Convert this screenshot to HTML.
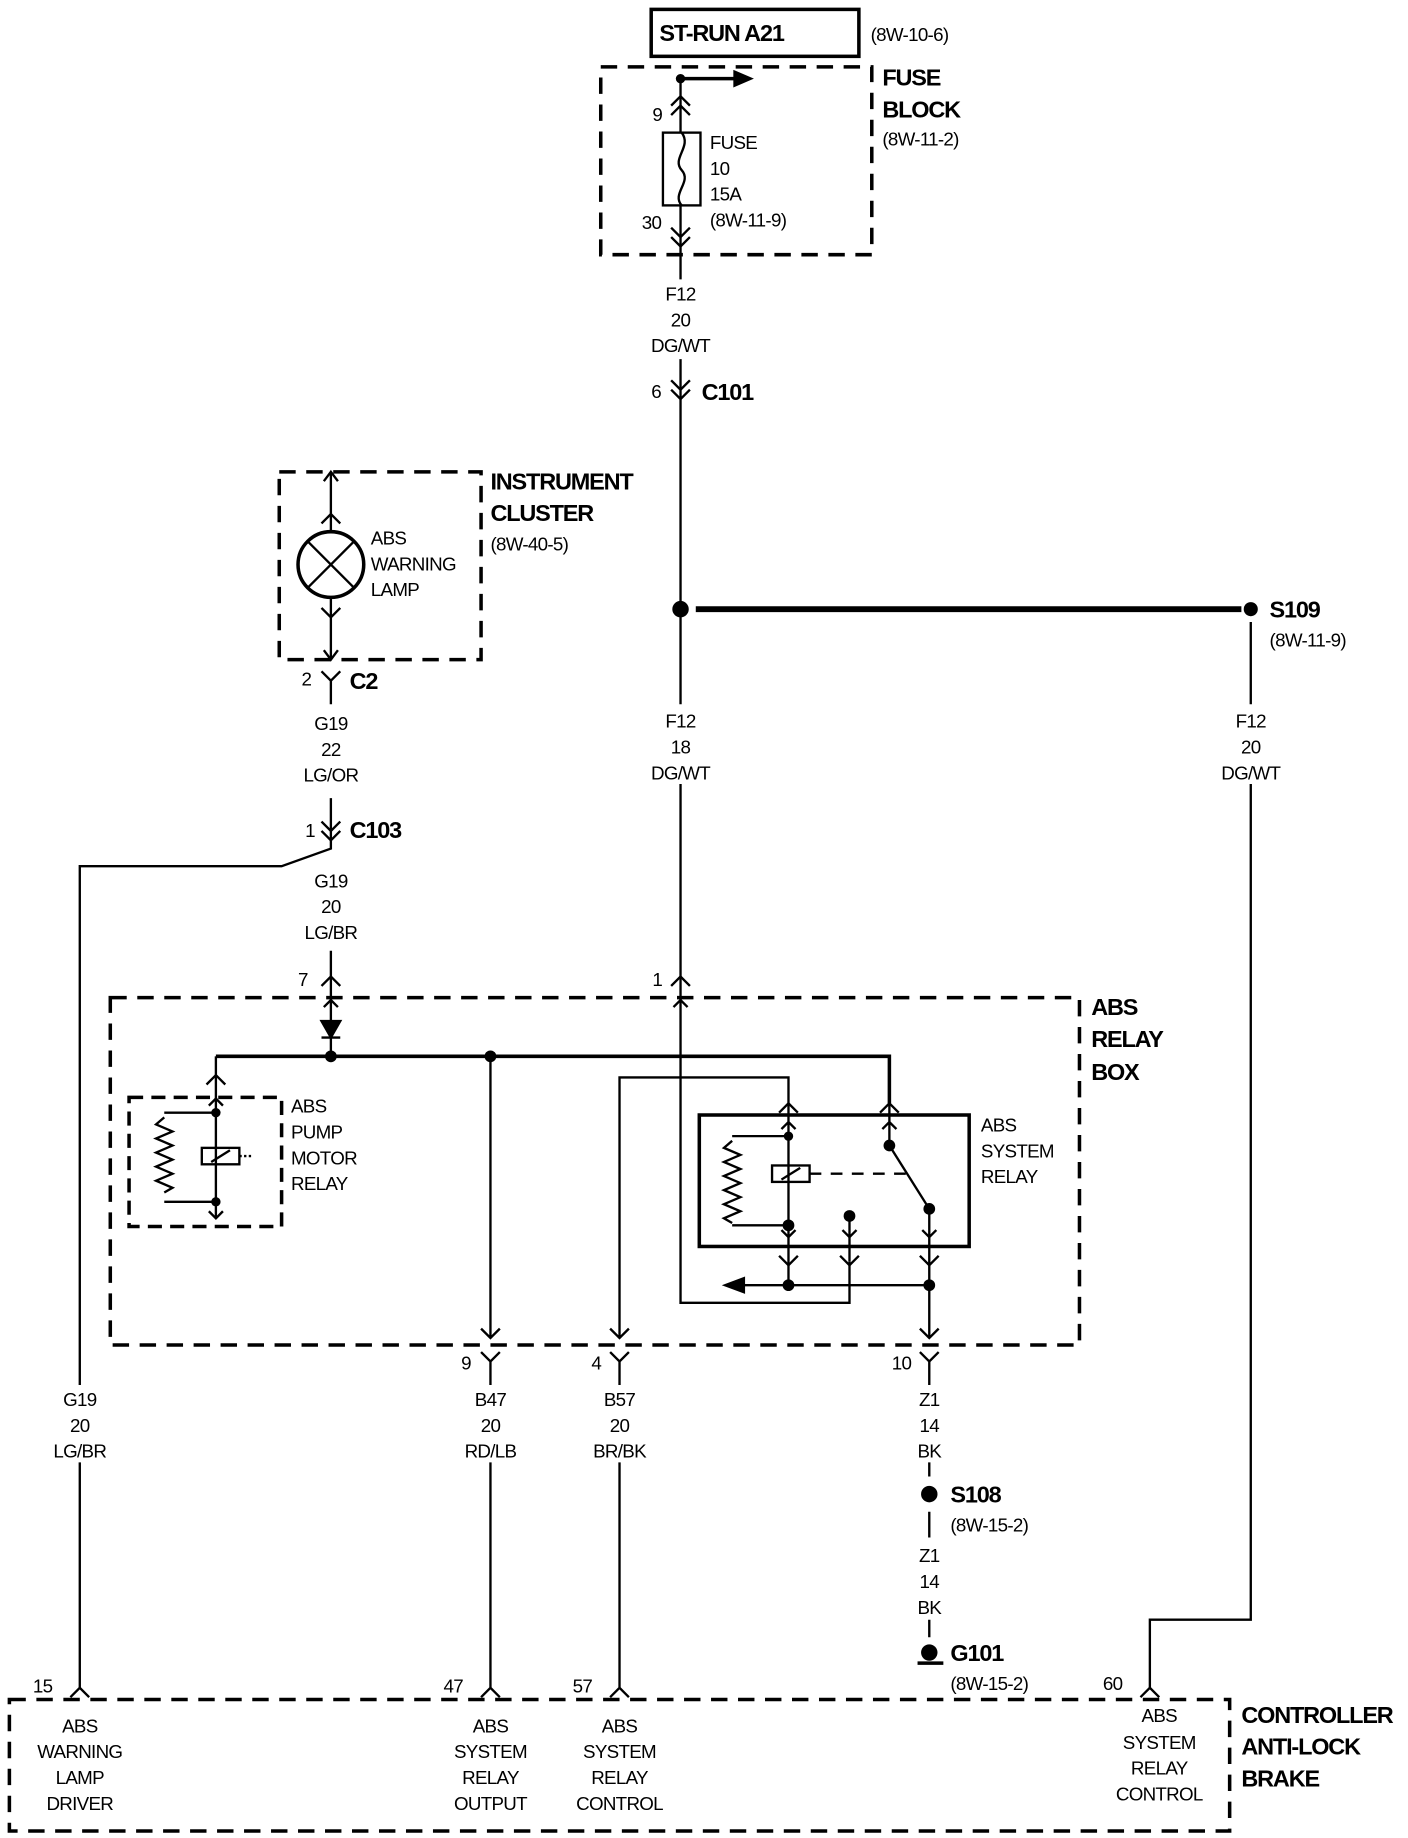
<!DOCTYPE html>
<html><head><meta charset="utf-8"><style>
html,body{margin:0;padding:0;background:#fff}
svg{display:block}
text{font-family:"Liberation Sans Narrow","Liberation Sans",sans-serif;font-size:16px;letter-spacing:-0.6px;fill:#000}
.b{font-weight:bold;font-size:20px;letter-spacing:-1px}
.c{text-anchor:middle}
</style></head><body>
<svg width="1408" height="1838" viewBox="0 0 1200 1566" preserveAspectRatio="none" xmlns="http://www.w3.org/2000/svg">
<g fill="none" stroke="#000" stroke-width="2">
<rect x="555" y="8" width="177" height="40" stroke-width="3"/>
<rect x="512" y="57" width="231" height="160" stroke-width="3" stroke-dasharray="14,9"/>
<rect x="238" y="402" width="172" height="160" stroke-width="3" stroke-dasharray="14,9"/>
<rect x="94" y="850" width="826" height="296" stroke-width="3" stroke-dasharray="14,9"/>
<rect x="110" y="935" width="130" height="110" stroke-width="3" stroke-dasharray="12,7"/>
<rect x="596" y="950" width="230" height="112" stroke-width="3"/>
<rect x="8" y="1448" width="1040" height="112" stroke-width="3" stroke-dasharray="14,9"/>
<path d="M580 67V113M580 175V238M580 306V600M580 668V1110H724V1075"/>
<path d="M580 67H628" stroke-width="3"/>
<path d="M626 61L640 67L626 73Z" fill="#000"/>
<path d="M572 90L580 82L588 90M572 98L580 90L588 98"/>
<rect x="565" y="113" width="32" height="62"/>
<path d="M581 113C590 125,572 135,581 145C590 155,572 165,581 175"/>
<path d="M572 194L580 202L588 194M572 202L580 210L588 202"/>
<path d="M572 324L580 332L588 324M572 332L580 340L588 332"/>
<path d="M593 519H1058" stroke-width="5"/>
<path d="M1066 530V600M1066 668V1380H980V1438"/>
<path d="M972 1446L980 1438L988 1446"/>
<path d="M282 402V453M282 509V562"/>
<path d="M276 410L282 402L288 410M274 446L282 438L290 446M274 518L282 526L290 518M276 554L282 562L288 554"/>
<circle cx="282" cy="481" r="28" stroke-width="3"/>
<path d="M262 461L302 501M302 461L262 501" stroke-width="2"/>
<path d="M274 572L282 580L290 572M282 580V600M282 680V723L240 738H68V1180M68 1246V1438"/>
<path d="M274 700L282 708L290 700M274 708L282 716L290 708"/>
<path d="M282 810V900"/>
<path d="M274 840L282 832L290 840M276 858L282 852L288 858"/>
<path d="M572 840L580 832L588 840M574 858L580 852L586 858"/>
<path d="M274 870H290L282 884Z" fill="#000"/>
<path d="M274 884H290"/>
<path d="M184 900H758V940" stroke-width="3"/>
<path d="M184 900V948"/>
<path d="M176 924L184 916L192 924M178 942L184 936L190 942"/>
<path d="M184 948V1038M140 948H184M140 1024H184"/>
<path d="M140 952l-7 6l14 6l-14 6l14 6l-14 6l14 6l-14 6l14 6l-14 6l14 6l-7 4"/>
<rect x="172" y="978" width="32" height="14"/>
<path d="M180 990L196 980"/>
<path d="M204 985H216" stroke-dasharray="2,2"/>
<path d="M178 1032L184 1038L190 1032"/>
<path d="M418 900V1140M410 1132L418 1140L426 1132M410 1152L418 1160L426 1152M418 1160V1180M418 1246V1438M410 1446L418 1438L426 1446"/>
<path d="M528 1140V918H672V940M520 1132L528 1140L536 1132M520 1152L528 1160L536 1152M528 1160V1180M528 1246V1438M520 1446L528 1438L536 1446"/>
<path d="M664 948L672 940L680 948M666 962L672 956L678 962M672 940V1095"/>
<path d="M750 948L758 940L766 948M752 962L758 956L764 962M758 940V976L792 1030V1140"/>
<path d="M624 968H672M624 1044H672"/>
<path d="M624 972l-7 6l14 6l-14 6l14 6l-14 6l14 6l-14 6l14 6l-14 6l14 6l-14 6l7 4"/>
<rect x="658" y="993" width="32" height="14"/>
<path d="M666 1005L682 995"/>
<path d="M690 1000H778" stroke-dasharray="10,8"/>
<path d="M724 1036V1075"/>
<path d="M666 1048L672 1054L678 1048M718 1048L724 1054L730 1048M786 1048L792 1054L798 1048"/>
<path d="M664 1070L672 1078L680 1070M716 1070L724 1078L732 1070M784 1070L792 1078L800 1070"/>
<path d="M632 1095H792"/>
<path d="M618 1095L634 1089V1101Z" fill="#000"/>
<path d="M784 1132L792 1140L800 1132M784 1152L792 1160L800 1152M792 1160V1180"/>
<path d="M60 1446L68 1438L76 1446"/>
<path d="M792 1246V1258M792 1288V1310M792 1380V1395"/>
<path d="M782 1417H804" stroke-width="3"/>
</g>
<g fill="#000">
<circle cx="580" cy="67" r="4"/>
<circle cx="580" cy="519" r="7"/><circle cx="1066" cy="519" r="6"/>
<circle cx="282" cy="900" r="5"/><circle cx="418" cy="900" r="5"/>
<circle cx="184" cy="948" r="4"/><circle cx="184" cy="1024" r="4"/>
<circle cx="672" cy="968" r="4"/><circle cx="672" cy="1044" r="5"/>
<circle cx="758" cy="976" r="5"/><circle cx="792" cy="1030" r="5"/><circle cx="724" cy="1036" r="5"/>
<circle cx="672" cy="1095" r="5"/><circle cx="792" cy="1095" r="5"/>
<circle cx="792" cy="1273" r="7"/><circle cx="792" cy="1408" r="7"/>
</g>
<text class="b" x="562" y="35">ST-RUN A21</text>
<text x="742" y="35">(8W-10-6)</text>
<text class="b" x="752" y="73">FUSE</text><text class="b" x="752" y="100">BLOCK</text><text x="752" y="124">(8W-11-2)</text>
<text x="556" y="103">9</text>
<text x="605" y="127">FUSE</text><text x="605" y="149">10</text><text x="605" y="171">15A</text><text x="605" y="193">(8W-11-9)</text>
<text x="547" y="195">30</text>
<text class="c" x="580" y="256">F12</text><text class="c" x="580" y="278">20</text><text class="c" x="580" y="300">DG/WT</text>
<text x="555" y="339">6</text><text class="b" x="598" y="341">C101</text>
<text class="b" x="418" y="417">INSTRUMENT</text><text class="b" x="418" y="444">CLUSTER</text><text x="418" y="469">(8W-40-5)</text>
<text x="316" y="464">ABS</text><text x="316" y="486">WARNING</text><text x="316" y="508">LAMP</text>
<text x="257" y="584">2</text><text class="b" x="298" y="587">C2</text>
<text class="c" x="282" y="622">G19</text><text class="c" x="282" y="644">22</text><text class="c" x="282" y="666">LG/OR</text>
<text x="260" y="713">1</text><text class="b" x="298" y="714">C103</text>
<text class="c" x="282" y="756">G19</text><text class="c" x="282" y="778">20</text><text class="c" x="282" y="800">LG/BR</text>
<text class="b" x="1082" y="526">S109</text><text x="1082" y="551">(8W-11-9)</text>
<text class="c" x="580" y="620">F12</text><text class="c" x="580" y="642">18</text><text class="c" x="580" y="664">DG/WT</text>
<text class="c" x="1066" y="620">F12</text><text class="c" x="1066" y="642">20</text><text class="c" x="1066" y="664">DG/WT</text>
<text x="254" y="840">7</text><text x="556" y="840">1</text>
<text class="b" x="930" y="865">ABS</text><text class="b" x="930" y="892">RELAY</text><text class="b" x="930" y="920">BOX</text>
<text x="248" y="948">ABS</text><text x="248" y="970">PUMP</text><text x="248" y="992">MOTOR</text><text x="248" y="1014">RELAY</text>
<text x="836" y="964">ABS</text><text x="836" y="986">SYSTEM</text><text x="836" y="1008">RELAY</text>
<text x="393" y="1167">9</text><text x="504" y="1167">4</text><text x="760" y="1167">10</text>
<text class="c" x="68" y="1198">G19</text><text class="c" x="68" y="1220">20</text><text class="c" x="68" y="1242">LG/BR</text>
<text class="c" x="418" y="1198">B47</text><text class="c" x="418" y="1220">20</text><text class="c" x="418" y="1242">RD/LB</text>
<text class="c" x="528" y="1198">B57</text><text class="c" x="528" y="1220">20</text><text class="c" x="528" y="1242">BR/BK</text>
<text class="c" x="792" y="1198">Z1</text><text class="c" x="792" y="1220">14</text><text class="c" x="792" y="1242">BK</text>
<text class="b" x="810" y="1280">S108</text><text x="810" y="1305">(8W-15-2)</text>
<text class="c" x="792" y="1331">Z1</text><text class="c" x="792" y="1353">14</text><text class="c" x="792" y="1375">BK</text>
<text class="b" x="810" y="1415">G101</text><text x="810" y="1440">(8W-15-2)</text>
<text x="28" y="1442">15</text><text x="378" y="1442">47</text><text x="488" y="1442">57</text><text x="940" y="1440">60</text>
<text class="b" x="1058" y="1468">CONTROLLER</text><text class="b" x="1058" y="1495">ANTI-LOCK</text><text class="b" x="1058" y="1522">BRAKE</text>
<text class="c" x="68" y="1476">ABS</text><text class="c" x="68" y="1498">WARNING</text><text class="c" x="68" y="1520">LAMP</text><text class="c" x="68" y="1542">DRIVER</text>
<text class="c" x="418" y="1476">ABS</text><text class="c" x="418" y="1498">SYSTEM</text><text class="c" x="418" y="1520">RELAY</text><text class="c" x="418" y="1542">OUTPUT</text>
<text class="c" x="528" y="1476">ABS</text><text class="c" x="528" y="1498">SYSTEM</text><text class="c" x="528" y="1520">RELAY</text><text class="c" x="528" y="1542">CONTROL</text>
<text class="c" x="988" y="1467">ABS</text><text class="c" x="988" y="1490">SYSTEM</text><text class="c" x="988" y="1512">RELAY</text><text class="c" x="988" y="1534">CONTROL</text>
</svg>
</body></html>
